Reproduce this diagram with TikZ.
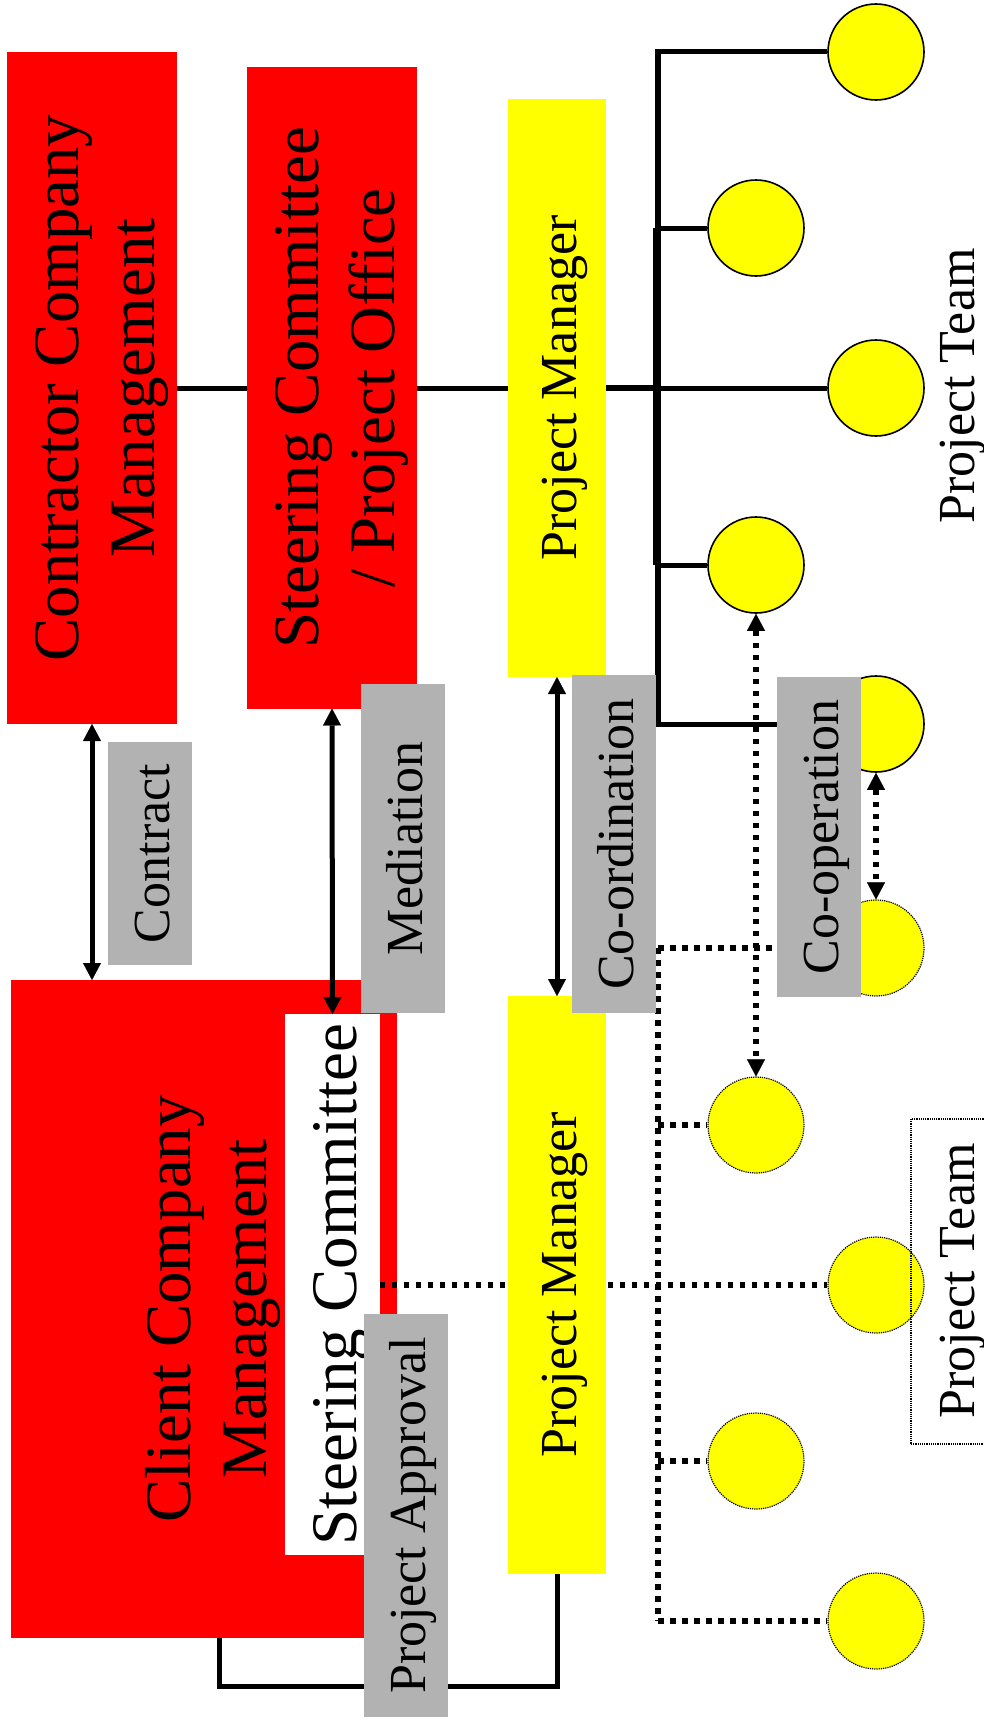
\documentclass[tikz,border=0pt]{standalone}
\usepackage{fontspec}
\usepackage{graphicx}
\setmainfont{Liberation Serif}
\usetikzlibrary{arrows.meta}
\pgfdeclarelayer{boxes}
\pgfdeclarelayer{wires}
\pgfsetlayers{boxes,wires,main}
\definecolor{boxred}{RGB}{255,0,0}
\definecolor{boxyellow}{RGB}{255,255,0}
\definecolor{boxgray}{RGB}{178,178,178}
\newcommand{\bigfont}{\fontsize{65}{76}\selectfont}
\newcommand{\midfont}{\fontsize{52}{60}\selectfont}
\newcommand{\vlabel}[1]{\rotatebox{90}{\begin{tabular}{@{}c@{}}\rule{0pt}{1.1em}#1\end{tabular}}}
\begin{document}
\begin{tikzpicture}[x=1pt, y=-1pt,
		plainbox/.style={rectangle, inner sep=0pt, outer sep=0pt},
		redbox/.style={plainbox, fill=boxred, font=\bigfont},
		pmbox/.style={plainbox, fill=boxyellow, minimum width=98pt, minimum height=578pt, font=\midfont},
		graybox/.style={plainbox, fill=boxgray, minimum width=84pt, font=\midfont},
		member/.style={circle, draw, fill=boxyellow, line width=1.6pt, minimum size=96pt, inner sep=0pt},
		guest/.style={member, line width=1.2pt, densely dotted},
		solidlink/.style={line width=5pt},
		dotlink/.style={line width=5.5pt, dash pattern=on 5.5pt off 6.5pt},
		twotips/.style={arrows={Triangle[width=18pt, length=17pt, line width=0.1pt]-Triangle[width=18pt, length=17pt, line width=0.1pt]}}]
		\useasboundingbox (0,0) rectangle (983,1726);
		\begin{pgfonlayer}{boxes}
		\node[redbox, minimum width=162pt, minimum height=672pt] (contractor) at (92,388) {\vlabel{Contractor Company\\Management}};
		\node[redbox, minimum width=162pt, minimum height=641pt] (steerco) at (332,388) {\vlabel{Steering Committee\\/ Project Office}};
		\node[redbox, minimum width=386pt, minimum height=658pt] (client) at (204,1309) {\vlabel{Client Company\\Management}};
		\node[plainbox, fill=white, minimum width=93pt, minimum height=541pt, font=\bigfont] (steerwhite) at (332.5,1284.5) {\vlabel{Steering Committee}};
		\end{pgfonlayer}
		\node[pmbox] (pmA) at (557,388) {\vlabel{Project Manager}};
		\node[pmbox] (pmB) at (557,1285) {\vlabel{Project Manager}};
		\foreach \i/\x/\y in {1/876/52, 2/756/228, 3/876/388, 4/756/565, 5/876/724}
			\node[member] (t\i) at (\x,\y) {};
		\foreach \i/\x/\y in {1/876/948, 2/756/1125, 3/876/1285, 4/756/1461, 5/876/1621}
			\node[guest] (g\i) at (\x,\y) {};
		\coordinate (topspine) at (658,0);
		\coordinate (thickspine) at (655,0);
		\coordinate (lowspine) at (658,0);
		\begin{pgfonlayer}{wires}
		\draw[solidlink] (contractor.east) -- (steerco.west);
		\draw[solidlink] (steerco.east) -- (pmA.west);
		\draw[solidlink] (pmA.east) -- (t3.west);
		\draw[line width=6.5pt] (pmA.east) -- (pmA.east -| topspine);
		\draw[line width=6pt, line cap=rect] (t1.west -| topspine) -- (t5.west -| topspine);
		\draw[solidlink] (t2.west -| thickspine) -- (t4.west -| thickspine);
		\foreach \i in {1,2,4,5}
			\draw[solidlink] (t\i.west -| topspine) -- (t\i.west);
		\draw[solidlink] (pmB.south) -- ++(0,112) -| ([xshift=15pt]client.south);
		\draw[dotlink] (g1.west -| lowspine) -- (g5.west -| lowspine);
		\foreach \i in {1,2,4,5}
			\draw[dotlink] (g\i.west -| lowspine) -- (g\i.west);
		\draw[dotlink] (steerwhite.east |- g3.west) -- (g3.west);
		\draw[solidlink, twotips] (contractor.south) -- (contractor.south |- client.north);
		\draw[solidlink, twotips] (steerco.south) -- (steerwhite.north);
		\draw[solidlink, twotips] (pmA.south) -- (pmB.north);
		\draw[dotlink, twotips] (t4.south) -- (g2.north);
		\draw[dotlink, twotips, line width=6.5pt] (t5.south) -- (g1.north);
		\end{pgfonlayer}
		\node[graybox, minimum height=223pt] (contract) at (149.5,853.5) {\vlabel{Contract}};
		\node[graybox, minimum height=329pt] (mediation) at (403,848.5) {\vlabel{Mediation}};
		\node[graybox, minimum height=338pt] (coordination) at (614,844) {\vlabel{Co-ordination}};
		\node[graybox, minimum height=320pt] (cooperation) at (819,837) {\vlabel{Co-operation}};
		\node[graybox, minimum height=403pt] (approval) at (406,1515.5) {\vlabel{Project Approval}};
		\node[font=\midfont, inner sep=0pt] (teamtop) at (955,386) {\vlabel{Project Team}};
		\node[plainbox, draw, line width=1.2pt, densely dotted, minimum width=74pt, minimum height=325pt] (teamframe) at (948,1281.5) {};
		\node[font=\midfont, inner sep=0pt] (teamlow) at (955,1281) {\vlabel{Project Team}};
\end{tikzpicture}
\end{document}
